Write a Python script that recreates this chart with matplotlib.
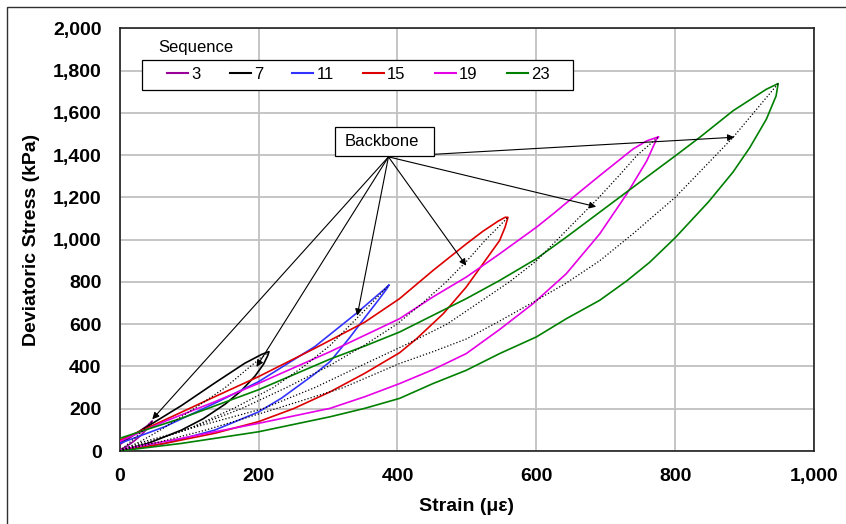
import matplotlib
matplotlib.use("Agg")
import matplotlib.pyplot as plt
from matplotlib.lines import Line2D
from matplotlib.patches import Rectangle
from matplotlib.ticker import FuncFormatter

plt.rcParams['font.family'] = ['Liberation Sans', 'DejaVu Sans']

# ---- hysteresis loops: strain (micro-strain) and deviatoric stress (kPa) ----
sequences = [3, 7, 11, 15, 19, 23]
seq_colors = ['#990099', '#000000', '#3333ff', '#dd0000', '#e600e6', '#008000']

s3_lower_strain = [0, 10, 20, 30, 38, 44, 47]
s3_lower_stress = [5, 22, 45, 72, 100, 125, 142]
s3_upper_strain = [0, 10, 20, 30, 40, 47]
s3_upper_stress = [30, 52, 75, 97, 120, 142]

s7_lower_strain = [0, 41, 89, 120, 152, 175, 195, 207, 213, 215]
s7_lower_stress = [0, 36, 99, 152, 222, 285, 355, 410, 450, 470]
s7_upper_strain = [0, 41, 89, 137, 180, 205, 214, 215]
s7_upper_stress = [36, 118, 215, 322, 415, 458, 469, 470]

s11_lower_strain = [0, 65, 137, 200, 233, 281, 303, 332, 355, 372, 384, 388]
s11_lower_stress = [0, 36, 99, 185, 250, 365, 423, 540, 640, 712, 765, 786]
s11_upper_strain = [0, 65, 137, 200, 281, 341, 365, 380, 388]
s11_upper_stress = [36, 115, 226, 328, 494, 652, 720, 762, 786]

s15_lower_strain = [0, 65, 137, 200, 250, 303, 353, 403, 427, 466, 499, 523, 547, 555, 559]
s15_lower_stress = [0, 36, 84, 139, 200, 280, 368, 465, 530, 650, 776, 886, 996, 1060, 1106]
s15_upper_strain = [0, 65, 137, 200, 281, 353, 403, 451, 499, 523, 545, 555, 559]
s15_upper_stress = [50, 147, 257, 352, 486, 610, 721, 854, 980, 1040, 1088, 1106, 1106]

s19_lower_strain = [0, 7, 89, 200, 303, 353, 403, 451, 499, 547, 595, 643, 691, 730, 759, 773, 776]
s19_lower_stress = [0, 10, 60, 131, 202, 257, 319, 385, 461, 575, 697, 839, 1027, 1216, 1374, 1476, 1487]
s19_upper_strain = [0, 65, 137, 200, 303, 403, 451, 499, 547, 600, 624, 653, 691, 739, 759, 776]
s19_upper_stress = [45, 140, 233, 320, 470, 626, 729, 823, 933, 1059, 1122, 1201, 1303, 1429, 1468, 1487]

s23_lower_strain = [0, 12, 89, 200, 303, 353, 403, 451, 499, 547, 600, 643, 691, 730, 763, 800,
                    848, 883, 907, 931, 945, 948]
s23_lower_stress = [0, 5, 36, 91, 162, 202, 249, 319, 382, 461, 540, 626, 713, 805, 893, 1010,
                    1180, 1320, 1435, 1570, 1680, 1739]
s23_upper_strain = [0, 89, 200, 303, 353, 403, 451, 499, 547, 600, 643, 691, 739, 800, 835, 883, 931, 948]
s23_upper_stress = [60, 155, 290, 435, 497, 563, 642, 721, 807, 910, 1012, 1130, 1248, 1397, 1484,
                    1610, 1712, 1739]

# ---- backbone curves ----
bb3_strain = [0, 25, 47]
bb3_stress = [0, 70, 142]
bb7_strain = [0, 30, 59, 107, 152, 188, 215]
bb7_stress = [0, 45, 100, 200, 300, 400, 470]
bb11_strain = [0, 36, 96, 163, 221, 265, 303, 333, 363, 388]
bb11_stress = [0, 45, 100, 200, 300, 400, 500, 600, 700, 786]
bb15_strain = [0, 45, 95, 175, 240, 300, 352, 399, 436, 470, 500, 527, 559]
bb15_stress = [0, 45, 100, 200, 300, 400, 500, 600, 700, 800, 900, 1000, 1106]
bb19_strain = [0, 45, 94, 206, 281, 345, 410, 471, 516, 561, 600, 630, 660, 690, 718, 745, 776]
bb19_stress = [0, 45, 100, 200, 300, 400, 500, 600, 700, 800, 900, 1000, 1100, 1200, 1300, 1400, 1487]
bb23_strain = [0, 60, 125, 225, 322, 403, 451, 499, 547, 600, 643, 691, 739, 800, 883, 948]
bb23_stress = [0, 45, 100, 200, 300, 414, 470, 530, 615, 713, 795, 900, 1028, 1201, 1484, 1739]

# annotation: callout origin and arrow tips on each backbone
callout_origin = (387, 1392)
arrow_tips_strain = [47, 197, 342, 499, 686, 885]
arrow_tips_stress = [150, 398, 640, 877, 1156, 1485]

x_ticks = [0, 200, 400, 600, 800, 1000]
y_ticks = [0, 200, 400, 600, 800, 1000, 1200, 1400, 1600, 1800, 2000]

loops = [
    (s3_lower_strain, s3_lower_stress, s3_upper_strain, s3_upper_stress),
    (s7_lower_strain, s7_lower_stress, s7_upper_strain, s7_upper_stress),
    (s11_lower_strain, s11_lower_stress, s11_upper_strain, s11_upper_stress),
    (s15_lower_strain, s15_lower_stress, s15_upper_strain, s15_upper_stress),
    (s19_lower_strain, s19_lower_stress, s19_upper_strain, s19_upper_stress),
    (s23_lower_strain, s23_lower_stress, s23_upper_strain, s23_upper_stress),
]
backbones = [
    (bb3_strain, bb3_stress), (bb7_strain, bb7_stress), (bb11_strain, bb11_stress),
    (bb15_strain, bb15_stress), (bb19_strain, bb19_stress), (bb23_strain, bb23_stress),
]

fig = plt.figure(figsize=(8.46, 5.24), dpi=100)
ax = fig.add_axes([0.1414, 0.1393, 0.8211, 0.8065])

# outer chart-area border
fig.patches.append(Rectangle((7 / 846, -0.1), 1.2, 1 - 7 / 524 + 0.1, transform=fig.transFigure,
                             fill=False, edgecolor='#303030', lw=1.0))

for (ls, lp, us, up), col in zip(loops, seq_colors):
    xs = list(ls) + list(reversed(us))
    ys = list(lp) + list(reversed(up))
    ax.plot(xs, ys, color=col, lw=1.2, solid_joinstyle='round', zorder=3)

for bs, bp in backbones:
    ax.plot(bs, bp, color='black', lw=0.9, linestyle=(0, (1, 1.6)), zorder=3.5)

for tx, ty in zip(arrow_tips_strain, arrow_tips_stress):
    ax.annotate('', xy=(tx, ty), xytext=callout_origin,
                arrowprops=dict(arrowstyle='-|>', color='black', lw=0.8,
                                mutation_scale=10, shrinkA=0, shrinkB=0), zorder=5)

# "Backbone" callout box
ax.add_patch(Rectangle((310, 1396), 143, 138, facecolor='white', edgecolor='black',
                       lw=0.9, zorder=6))
ax.text(377, 1466, 'Backbone', ha='center', va='center', fontsize=12, zorder=7)

ax.set_xlim(0, 1000)
ax.set_ylim(0, 2000)
ax.set_xticks(x_ticks)
ax.set_yticks(y_ticks)
ax.xaxis.set_major_formatter(FuncFormatter(lambda v, p: f'{int(v):,}'))
ax.yaxis.set_major_formatter(FuncFormatter(lambda v, p: f'{int(v):,}'))
ax.tick_params(axis='both', length=0, labelsize=14)
ax.tick_params(axis='x', pad=12)
ax.tick_params(axis='y', pad=13)
for lab in ax.get_xticklabels() + ax.get_yticklabels():
    lab.set_fontweight('bold')

ax.grid(True, color='#c0c0c0', lw=1.3, zorder=0)
ax.set_axisbelow(True)
for sp in ax.spines.values():
    sp.set_color('#202020')
    sp.set_linewidth(1.2)

ax.set_xlabel('Strain (\u03bc\u03b5)', fontsize=14, fontweight='bold')
ax.set_ylabel('Deviatoric Stress (kPa)', fontsize=14, fontweight='bold')
ax.xaxis.set_label_coords(0.5, -0.112)
ax.yaxis.set_label_coords(-0.1146, 0.5)

# legend with its frame and title above it
ax.add_patch(Rectangle((0.0327, 0.8535), 0.6195, 0.0729, transform=ax.transAxes,
                       facecolor='white', edgecolor='black', lw=0.9, zorder=4.5, clip_on=False))
ax.text(0.0553, 0.9548, 'Sequence', transform=ax.transAxes, ha='left', va='center',
        fontsize=12, zorder=6)
handles = [Line2D([0], [0], color=c, lw=1.5) for c in seq_colors]
leg = ax.legend(handles, [str(s) for s in sequences], ncol=6, loc='center left',
                bbox_to_anchor=(0.0682, 0.891), frameon=False, borderpad=0, borderaxespad=0,
                handlelength=1.26, handletextpad=0.18, columnspacing=1.77, fontsize=12)
leg.set_zorder(7)

fig.savefig('out.png', dpi=100)
